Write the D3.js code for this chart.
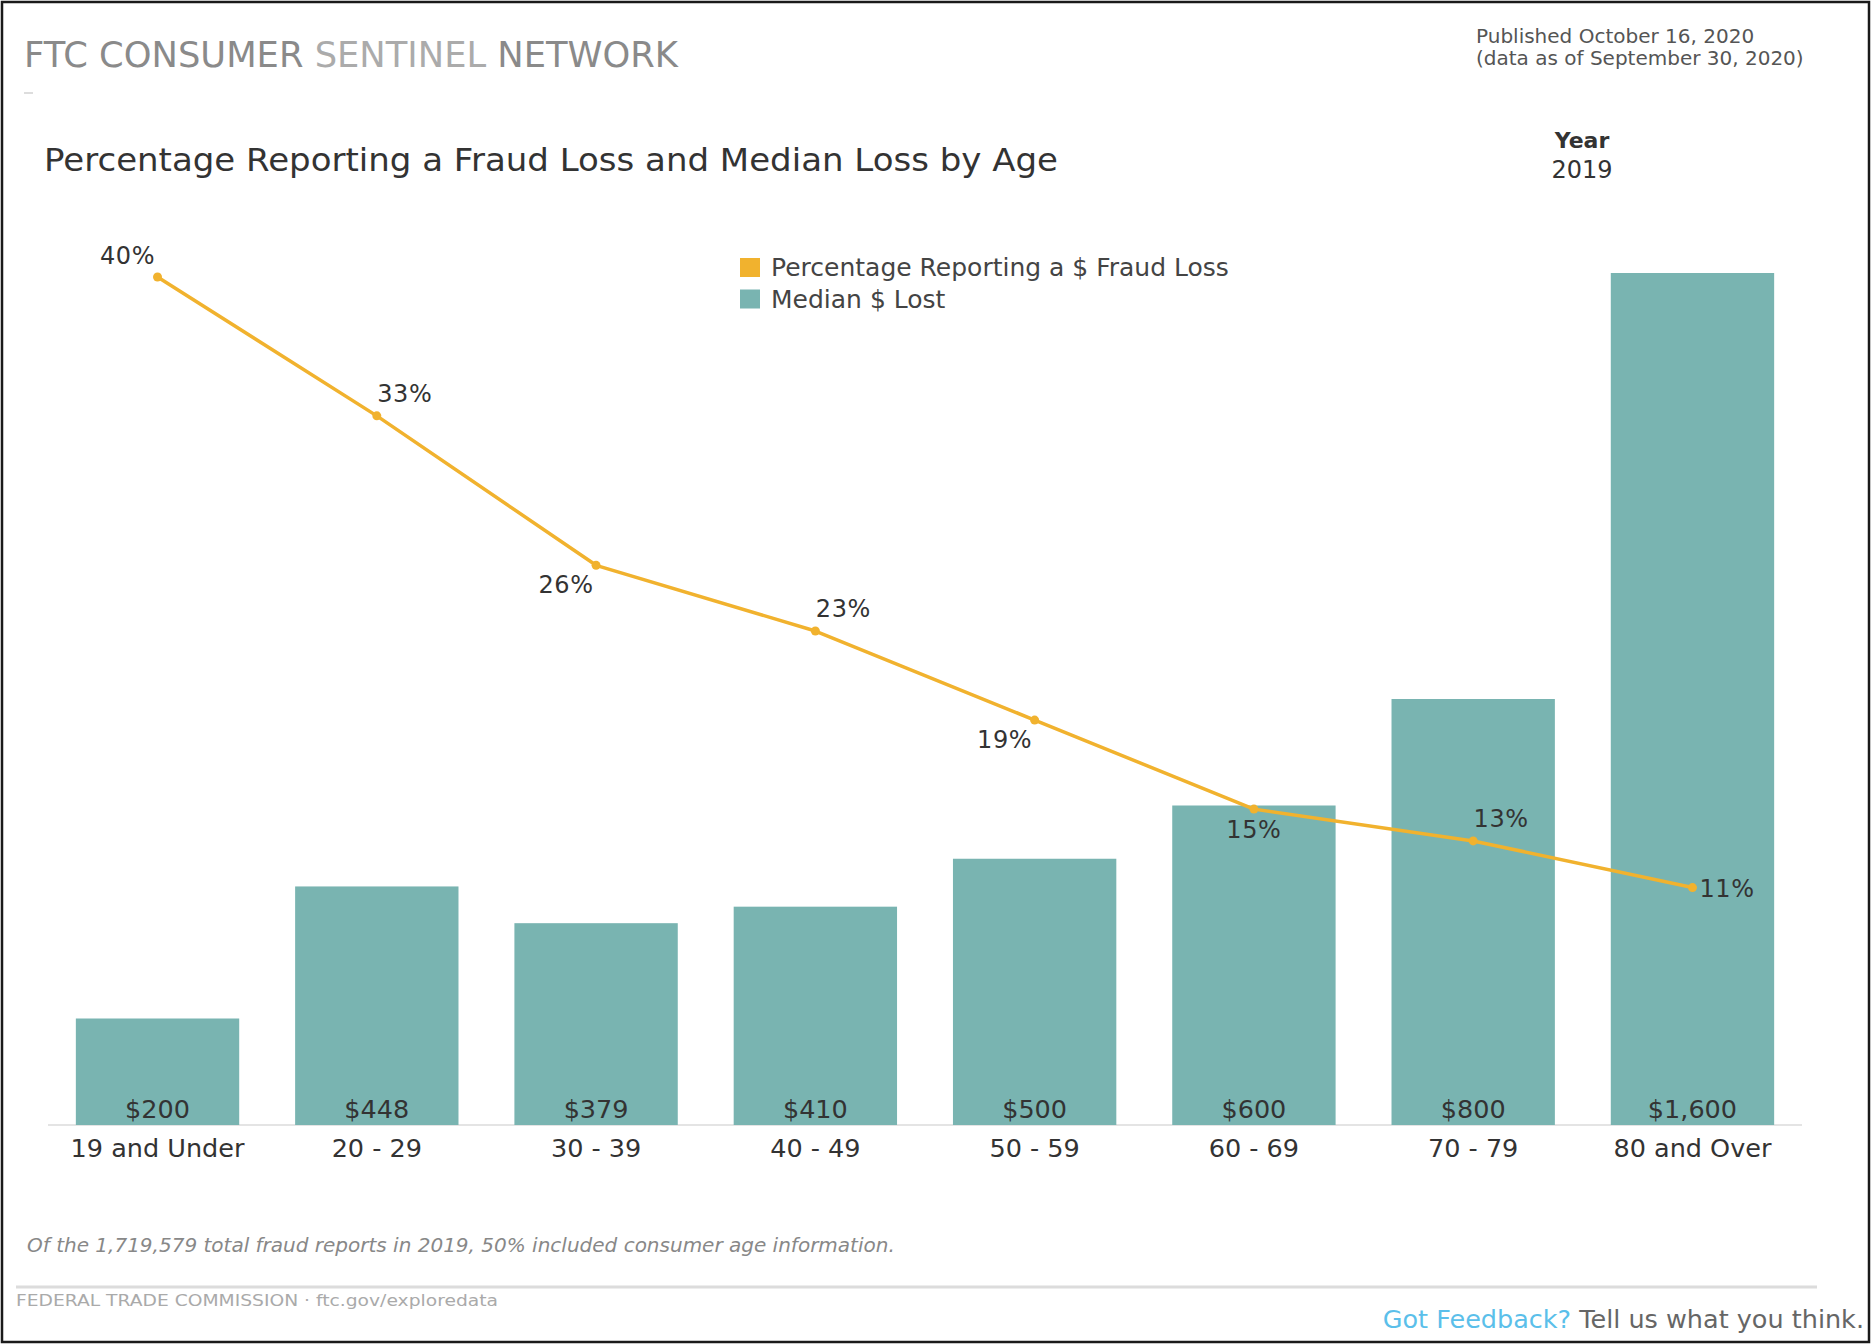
<!DOCTYPE html>
<html>
<head>
<meta charset="utf-8">
<title>Percentage Reporting a Fraud Loss and Median Loss by Age</title>
<script src="https://cdn.jsdelivr.net/npm/d3@7"></script>
<style>
    html, body { margin: 0; padding: 0; background: #fff; }
    svg { display: block; }
</style>
</head>
<body>
<div id="chart-div"></div>
<script>
//---------------------------------//
// Data                            //
//---------------------------------//

var ageGroups = ['19 and Under', '20 - 29', '30 - 39', '40 - 49', '50 - 59', '60 - 69', '70 - 79', '80 and Over'];
var medianLost = [200, 448, 379, 410, 500, 600, 800, 1600];              // Median $ lost
var pctReporting = [40.0, 33.45, 26.4, 23.3, 19.1, 14.9, 13.4, 11.2];    // % reporting a $ fraud loss
var legendLabels = ['Percentage Reporting a $ Fraud Loss', 'Median $ Lost'];

//---------------------------------//
// Chart Object                    //
//---------------------------------//

window.Chart = window.Chart || {};

Chart.init = function() {
    Chart.setup.initConsts();
    Chart.setup.initSvg();
    Chart.setup.initScales();

    Chart.draw.header();
    Chart.draw.bars();
    Chart.draw.line();
    Chart.draw.legend();
    Chart.draw.footer();
};

Chart.setup = {
    initConsts: function() {
        Chart.width = 1871;
        Chart.height = 1344;

        Chart.baseY = 1125;             // y of the zero line
        Chart.topY = 273;               // y of $1,600
        Chart.pctTopY = 277;            // y of 40%

        Chart.teal = '#79b4b1';
        Chart.orange = '#f1b22e';
        Chart.textColor = '#333';
        Chart.font = '"DejaVu Sans", Verdana, sans-serif';

        // where each % label sits around its point
        Chart.labelPos = ['nw', 'ne', 'sw', 'ne', 'sw', 's', 'ne', 'e'];
        Chart.labelOffsets = {
            nw: [-30, -13, 'middle'],
            ne: [28, -14, 'middle'],
            sw: [-30, 28, 'middle'],
            s:  [0, 29, 'middle'],
            e:  [7, 9, 'start']
        };
    },

    initSvg: function() {
        Chart.svg = d3.select('#chart-div')
                      .append('svg')
                        .attr('width', Chart.width)
                        .attr('height', Chart.height)
                        .style('font-family', Chart.font);

        Chart.svg.append('rect')                                  // outer frame
                 .attr('x', 2).attr('y', 2)
                 .attr('width', Chart.width - 4).attr('height', Chart.height - 4)
                 .attr('fill', '#fff')
                 .attr('stroke', '#1a1a1a')
                 .attr('stroke-width', 2.5);
    },

    initScales: function() {
        Chart.x = d3.scaleBand()
                    .domain(ageGroups)
                    .range([48, 1802])
                    .paddingInner(0.255)
                    .paddingOuter(0.127);

        Chart.yMoney = d3.scaleLinear()
                         .domain([0, 1600])
                         .range([Chart.baseY, Chart.topY]);

        Chart.yPct = d3.scaleLinear()
                       .domain([0, 40])
                       .range([Chart.baseY, Chart.pctTopY]);
    }
};

Chart.draw = {
    header: function() {
        var svg = Chart.svg;

        var brand = svg.append('text')
                       .attr('x', 24).attr('y', 67)
                       .attr('font-size', 36)
                       .attr('textLength', 654)
                       .attr('lengthAdjust', 'spacingAndGlyphs');
        brand.append('tspan').attr('fill', '#8a8a8a').text('FTC CONSUMER ');
        brand.append('tspan').attr('fill', '#ababab').text('SENTINEL ');
        brand.append('tspan').attr('fill', '#8a8a8a').text('NETWORK');

        svg.append('line')                                        // small dash under the brand
           .attr('x1', 24).attr('x2', 33)
           .attr('y1', 93).attr('y2', 93)
           .attr('stroke', '#ddd').attr('stroke-width', 2);

        svg.append('text')
           .attr('x', 1476).attr('y', 43)
           .attr('font-size', 20).attr('fill', '#555')
           .text('Published October 16, 2020');
        svg.append('text')
           .attr('x', 1476).attr('y', 65)
           .attr('font-size', 20).attr('fill', '#555')
           .text('(data as of September 30, 2020)');

        svg.append('text')
           .attr('x', 1582).attr('y', 148)
           .attr('text-anchor', 'middle')
           .attr('font-size', 22).attr('font-weight', 'bold').attr('fill', Chart.textColor)
           .text('Year');
        svg.append('text')
           .attr('x', 1582).attr('y', 178)
           .attr('text-anchor', 'middle')
           .attr('font-size', 24).attr('fill', Chart.textColor)
           .text('2019');

        svg.append('text')
           .attr('x', 44).attr('y', 171)
           .attr('font-size', 32).attr('fill', Chart.textColor)
           .attr('textLength', 1014).attr('lengthAdjust', 'spacingAndGlyphs')
           .text('Percentage Reporting a Fraud Loss and Median Loss by Age');
    },

    bars: function() {
        var svg = Chart.svg;

        svg.append('line')                                        // zero line
           .attr('x1', 48).attr('x2', 1802)
           .attr('y1', Chart.baseY).attr('y2', Chart.baseY)
           .attr('stroke', '#e4e4e4').attr('stroke-width', 2);

        svg.append('g')
           .selectAll('rect')
           .data(medianLost)
           .join('rect')
             .attr('x', function(d, i) { return Chart.x(ageGroups[i]); })
             .attr('y', function(d) { return Chart.yMoney(d); })
             .attr('width', Chart.x.bandwidth())
             .attr('height', function(d) { return Chart.baseY - Chart.yMoney(d); })
             .attr('fill', Chart.teal);

        var fmt = d3.format('$,');
        svg.append('g')
           .selectAll('text')
           .data(medianLost)
           .join('text')
             .attr('x', function(d, i) { return Chart.x(ageGroups[i]) + Chart.x.bandwidth() / 2; })
             .attr('y', Chart.baseY - 7)
             .attr('text-anchor', 'middle')
             .attr('font-size', 25.5).attr('fill', Chart.textColor)
             .text(function(d) { return fmt(d); });

        var axis = svg.append('g')
                      .attr('transform', 'translate(0,' + Chart.baseY + ')')
                      .call(d3.axisBottom(Chart.x).tickSize(0).tickPadding(14));
        axis.select('.domain').remove();
        axis.selectAll('text')
            .attr('font-family', Chart.font)
            .attr('font-size', 25.5)
            .attr('fill', Chart.textColor);
    },

    line: function() {
        var svg = Chart.svg;
        var cx = function(i) { return Chart.x(ageGroups[i]) + Chart.x.bandwidth() / 2; };

        var line = d3.line()
                     .x(function(d, i) { return cx(i); })
                     .y(function(d) { return Chart.yPct(d); });

        svg.append('path')
           .datum(pctReporting)
           .attr('d', line)
           .attr('fill', 'none')
           .attr('stroke', Chart.orange)
           .attr('stroke-width', 3.5)
           .attr('stroke-linejoin', 'round');

        svg.append('g')
           .selectAll('circle')
           .data(pctReporting)
           .join('circle')
             .attr('cx', function(d, i) { return cx(i); })
             .attr('cy', function(d) { return Chart.yPct(d); })
             .attr('r', 4.5)
             .attr('fill', Chart.orange);

        svg.append('g')
           .selectAll('text')
           .data(pctReporting)
           .join('text')
             .each(function(d, i) {
                 var off = Chart.labelOffsets[Chart.labelPos[i]];
                 d3.select(this)
                   .attr('x', cx(i) + off[0])
                   .attr('y', Chart.yPct(d) + off[1])
                   .attr('text-anchor', off[2]);
             })
             .attr('font-size', 24).attr('letter-spacing', 0.6).attr('fill', Chart.textColor)
             .text(function(d) { return Math.round(d) + '%'; });
    },

    legend: function() {
        var colors = [Chart.orange, Chart.teal];
        var items = Chart.svg.append('g')
                             .attr('transform', 'translate(740,258)')
                             .selectAll('g')
                             .data(legendLabels)
                             .join('g')
                               .attr('transform', function(d, i) { return 'translate(0,' + (i * 31.5) + ')'; });

        items.append('rect')
             .attr('width', 20).attr('height', 19)
             .attr('fill', function(d, i) { return colors[i]; });
        items.append('text')
             .attr('x', 31).attr('y', 18)
             .attr('font-size', 25).attr('fill', '#444')
             .text(function(d) { return d; });
    },

    footer: function() {
        var svg = Chart.svg;

        svg.append('text')
           .attr('x', 27).attr('y', 1252)
           .attr('font-size', 20).attr('font-style', 'italic').attr('fill', '#888')
           .text('Of the 1,719,579 total fraud reports in 2019, 50% included consumer age information.');

        svg.append('line')
           .attr('x1', 16).attr('x2', 1817)
           .attr('y1', 1287).attr('y2', 1287)
           .attr('stroke', '#dcdcdc').attr('stroke-width', 3);

        svg.append('text')
           .attr('x', 16).attr('y', 1306)
           .attr('font-size', 15).attr('fill', '#aaa')
           .attr('textLength', 482).attr('lengthAdjust', 'spacingAndGlyphs')
           .text('FEDERAL TRADE COMMISSION \u00b7 ftc.gov/exploredata');

        var fb = svg.append('text')
                    .attr('x', 1864).attr('y', 1328)
                    .attr('text-anchor', 'end')
                    .attr('font-size', 25.5);
        fb.append('tspan').attr('fill', '#5bbfea').text('Got Feedback? ');
        fb.append('tspan').attr('fill', '#666').text('Tell us what you think.');
    }
};

document.addEventListener('DOMContentLoaded', Chart.init);
</script>
</body>
</html>
